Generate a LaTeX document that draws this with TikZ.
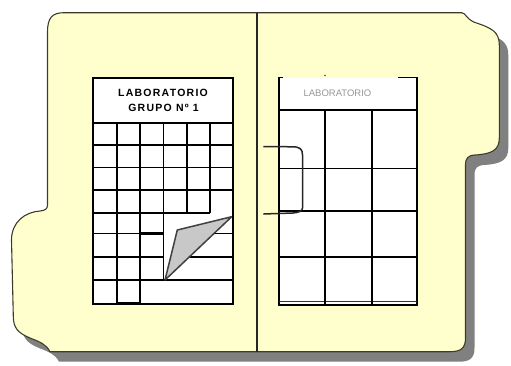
\documentclass[tikz,border=0pt]{standalone}
\usepackage{fontspec}
\setmainfont{Liberation Sans}
\newfontfamily\labfont[LetterSpace=12]{Liberation Sans}
\definecolor{folderfill}{RGB}{255,255,206}
\definecolor{folderline}{RGB}{60,60,45}
\definecolor{shadowgray}{RGB}{128,128,128}
\definecolor{curlgray}{RGB}{200,200,200}
\definecolor{headgray}{RGB}{150,150,150}
\tikzset{
  gridline/.style={line width=1.6pt, black},
  sheetline/.style={line width=1.7pt, black},
  folderpath/.style={line width=1.1pt},
}
\begin{document}
\begin{tikzpicture}[x=1pt,y=-1pt]
\useasboundingbox (0,0) rectangle (511,365);
\def\folder{(47.5,32) .. controls (47.5,18) and (52,12.7) .. (64,12.7)
  -- (461.7,12.7) .. controls (466,13) and (466,19) .. (475,22.5)
  .. controls (492,28) and (499.3,32) .. (499.3,45)
  -- (499.3,138) .. controls (499.3,150) and (492,154) .. (475,155)
  .. controls (468,155.5) and (465.5,158) .. (465.5,165)
  -- (465.5,338) .. controls (465.5,348) and (461,351.7) .. (450,351.7)
  -- (50,351.7) .. controls (46,344) and (40,342) .. (30,338)
  .. controls (18,333) and (13.3,328) .. (13.3,316)
  -- (11.5,240) .. controls (11.5,222) and (25,212) .. (40,211)
  .. controls (45,210.5) and (47.5,209) .. (47.5,205) -- cycle}
% shadow
\fill[shadowgray, shift={(9pt,-10pt)}] \folder;
% folder
\filldraw[folderpath, fill=folderfill, draw=folderline] \folder;
% centre fold
\coordinate (ftop) at (257,12.7);
\coordinate (fbot) at (257,351.7);
\draw[line width=1.4pt, black!85] (ftop) -- (fbot);

% ---------- left sheet ----------
\fill[white] (93.3,78.3) rectangle (233.3,304);
% page curl
\coordinate (cbase) at (165,280);
\coordinate (cvert) at (177.3,230);
\coordinate (ctip) at (231.7,216.7);
% grid
\draw[gridline] (93.3,123) -- (233.3,123);
\foreach \y in {145,167.5,190}{\draw[gridline] (93.3,\y) -- (233.3,\y);}
\draw[gridline] (93.3,212.7) -- (210,212.7);
\draw[gridline] (93.3,233.3) -- (163.3,233.3);
\draw[gridline] (93.3,256.7) -- (163.3,256.7);
\draw[gridline] (93.3,280) -- (233.3,280);
\draw[gridline] (214.2,233.3) -- (233.3,233.3);
\draw[gridline] (189.5,256.7) -- (233.3,256.7);
\draw[gridline] (116.7,123) -- (116.7,304);
\draw[gridline] (140,123) -- (140,304);
\draw[gridline] (163.3,123) -- (163.3,280);
\draw[gridline] (186.7,123) -- (186.7,212.7);
\draw[gridline] (210,123) -- (210,212.7);
\draw[line width=2.4pt] (140,233.3) -- (163.3,233.3);
\draw[line width=2.4pt] (116.7,303) -- (140,303);
\filldraw[fill=curlgray, draw=black!75, line width=1.5pt, line join=round] (cbase) -- (cvert) -- (ctip) -- cycle;
\draw[sheetline] (93.3,78.3) rectangle (233.3,304);
\node[font=\labfont\bfseries\fontsize{10.5}{12}\selectfont] (lab1) at (163,92.5) {LABORATORIO};
\node[font=\labfont\bfseries\fontsize{10.5}{12}\selectfont] (lab2) at (163.5,108.3) {GRUPO Nº 1};

% ---------- right sheet ----------
\fill[white] (279.3,77.5) rectangle (417,305);
\draw[sheetline] (283,77.5) -- (279.3,77.5) -- (279.3,305) -- (417,305) -- (417,77.5) -- (398,77.5);
\fill[black!70] (325,75.5) circle (0.8);
\draw[gridline] (279.3,110) -- (417,110);
\foreach \y in {168.5,211,256.7}{\draw[gridline] (279.3,\y) -- (417,\y);}
\draw[gridline, black!80] (279.3,301.5) -- (417,301.5);
\draw[gridline] (325,110) -- (325,305);
\draw[gridline] (371.7,110) -- (371.7,305);
\node[font=\fontsize{9.5}{11}\selectfont, text=headgray] (lab3) at (337.5,93) {LABORATORIO};
% bracket
\coordinate (bra) at (263.3,146.5);
\coordinate (brb) at (263.3,214);
\draw[line width=1.5pt, black!85] (bra) -- (293,146.8) .. controls (300,147) and (302.5,149) .. (302.5,155)
  -- (302.5,208) .. controls (302.5,211) and (299,212.5) .. (293,213) -- (brb);
\end{tikzpicture}
\end{document}
